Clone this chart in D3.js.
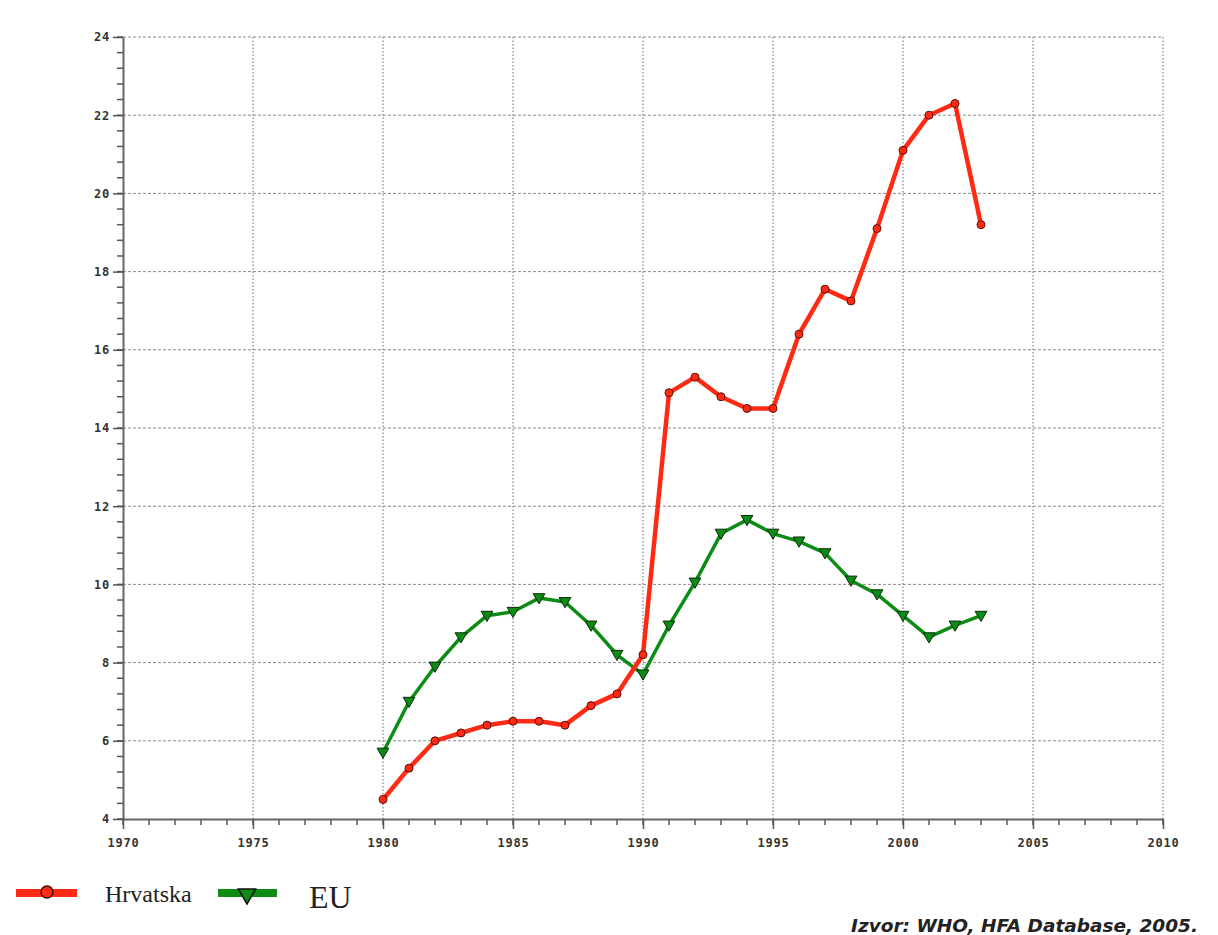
<!DOCTYPE html>
<html lang="hr">
<head>
  <meta charset="UTF-8">
  <title>Hrvatska vs EU</title>
  <script src="https://d3js.org/d3.v7.min.js"></script>
  <style>
    body { margin: 0; background: #fff; }
  </style>
</head>
<body>
  <div class="canvas"></div>
  <script>
    // data
    const years = d3.range(1980, 2004);
    const hrvatska = [4.5, 5.3, 6.0, 6.2, 6.4, 6.5, 6.5, 6.4, 6.9, 7.2, 8.2,
      14.9, 15.3, 14.8, 14.5, 14.5, 16.4, 17.55, 17.25, 19.1, 21.1, 22.0, 22.3, 19.2];
    const eu = [5.7, 7.0, 7.9, 8.65, 9.2, 9.3, 9.65, 9.55, 8.95, 8.2, 7.7,
      8.95, 10.05, 11.3, 11.65, 11.3, 11.1, 10.8, 10.1, 9.75, 9.2, 8.65, 8.95, 9.2];
    const yTicks = [4, 6, 8, 10, 12, 14, 16, 18, 20, 22, 24];
    const xTicks = [1970, 1975, 1980, 1985, 1990, 1995, 2000, 2005, 2010];

    const width = 1218;
    const height = 935;
    const [mt, ml] = [37, 123];
    const graphWidth = 1163 - ml;
    const graphHeight = 819 - mt;

    const svg = d3.select('.canvas')
      .append('svg')
      .attr('width', width)
      .attr('height', height)
      .style('background', '#fff');

    const graph = svg.append('g')
      .attr('transform', `translate(${ml}, ${mt})`);

    const x = d3.scaleLinear().domain([1970, 2010]).range([0, graphWidth]);
    const y = d3.scaleLinear().domain([4, 24]).range([graphHeight, 0]);

    // grid
    graph.append('g')
      .selectAll('line')
      .data(yTicks.slice(1))
      .join('line')
      .attr('x1', 0).attr('x2', graphWidth)
      .attr('y1', d => y(d)).attr('y2', d => y(d))
      .attr('stroke', '#8a8a8a')
      .attr('stroke-width', 1)
      .attr('stroke-dasharray', '3,2');

    graph.append('g')
      .selectAll('line')
      .data(xTicks.slice(1))
      .join('line')
      .attr('x1', d => x(d)).attr('x2', d => x(d))
      .attr('y1', 0).attr('y2', graphHeight)
      .attr('stroke', '#6a6a6a')
      .attr('stroke-width', 1)
      .attr('stroke-dasharray', '1.5,2');

    // minor ticks
    graph.append('g')
      .selectAll('line')
      .data(d3.range(4, 24.01, 0.4))
      .join('line')
      .attr('x1', -6).attr('x2', 0)
      .attr('y1', d => y(d)).attr('y2', d => y(d))
      .attr('stroke', '#555')
      .attr('stroke-width', 1.5);

    graph.append('g')
      .selectAll('line')
      .data(d3.range(1970, 2011, 1))
      .join('line')
      .attr('x1', d => x(d)).attr('x2', d => x(d))
      .attr('y1', graphHeight).attr('y2', graphHeight + 6)
      .attr('stroke', '#555')
      .attr('stroke-width', 1.5);

    // axes
    const yAxis = d3.axisLeft(y).tickValues(yTicks).tickSize(10).tickSizeOuter(0).tickPadding(3);
    const xAxis = d3.axisBottom(x).tickValues(xTicks).tickSize(10).tickSizeOuter(0).tickPadding(9)
      .tickFormat(d3.format('d'));

    const yAxisG = graph.append('g').call(yAxis);
    const xAxisG = graph.append('g')
      .attr('transform', `translate(0, ${graphHeight})`)
      .call(xAxis);

    [xAxisG, yAxisG].forEach(g => {
      g.select('.domain').attr('stroke', '#666').attr('stroke-width', 2);
      g.selectAll('.tick line').attr('stroke', '#555').attr('stroke-width', 1.5);
      g.selectAll('.tick text')
        .attr('font-family', 'DejaVu Sans Mono')
        .attr('font-weight', 'bold')
        .attr('font-size', 12)
        .attr('letter-spacing', 0.8)
        .attr('fill', '#333');
    });

    // series
    const series = [
      { name: 'Hrvatska', values: hrvatska, color: '#ff2a14', width: 4.5, marker: 'circle' },
      { name: 'EU', values: eu, color: '#0c8c14', width: 3.5, marker: 'triangle' }
    ];

    const line = d3.line()
      .x((d, i) => x(years[i]))
      .y(d => y(d));

    const tri = d3.symbol().type(d3.symbolTriangle).size(60);

    series.slice().reverse().forEach(s => {
      graph.append('path')
        .datum(s.values)
        .attr('fill', 'none')
        .attr('stroke', s.color)
        .attr('stroke-width', s.width)
        .attr('stroke-linejoin', 'round')
        .attr('d', line);
    });

    series.forEach(s => {
      const g = graph.append('g');
      if (s.marker === 'circle') {
        g.selectAll('circle')
          .data(s.values)
          .join('circle')
          .attr('cx', (d, i) => x(years[i]))
          .attr('cy', d => y(d))
          .attr('r', 4)
          .attr('fill', s.color)
          .attr('stroke', '#5a1008')
          .attr('stroke-width', 1);
      } else {
        g.selectAll('path')
          .data(s.values)
          .join('path')
          .attr('d', tri)
          .attr('transform', (d, i) => `translate(${x(years[i])}, ${y(d) - 1}) rotate(180)`)
          .attr('fill', s.color)
          .attr('stroke', '#0a2a0a')
          .attr('stroke-width', 1);
      }
    });

    // legend
    const legend = svg.append('g');
    legend.append('line')
      .attr('x1', 16).attr('x2', 77).attr('y1', 893).attr('y2', 893)
      .attr('stroke', series[0].color).attr('stroke-width', 8);
    legend.append('circle')
      .attr('cx', 47).attr('cy', 892).attr('r', 6)
      .attr('fill', series[0].color).attr('stroke', '#4a0a04').attr('stroke-width', 1.5);
    legend.append('text')
      .attr('x', 105).attr('y', 902)
      .attr('font-family', 'Liberation Serif')
      .attr('font-size', 24)
      .attr('fill', '#222')
      .text('Hrvatska');

    legend.append('line')
      .attr('x1', 218).attr('x2', 277).attr('y1', 893).attr('y2', 893)
      .attr('stroke', series[1].color).attr('stroke-width', 8);
    legend.append('path')
      .attr('d', d3.symbol().type(d3.symbolTriangle).size(130))
      .attr('transform', 'translate(247, 894) rotate(180)')
      .attr('fill', series[1].color).attr('stroke', '#111').attr('stroke-width', 1.5);
    legend.append('text')
      .attr('x', 309).attr('y', 908)
      .attr('font-family', 'Liberation Serif')
      .attr('font-size', 32)
      .attr('fill', '#222')
      .text('EU');

    // source
    svg.append('text')
      .attr('x', 1198).attr('y', 932)
      .attr('text-anchor', 'end')
      .attr('font-family', 'DejaVu Sans')
      .attr('font-style', 'italic')
      .attr('font-weight', 'bold')
      .attr('font-size', 18.5)
      .attr('fill', '#222')
      .text('Izvor: WHO, HFA Database, 2005.');
  </script>
</body>
</html>
